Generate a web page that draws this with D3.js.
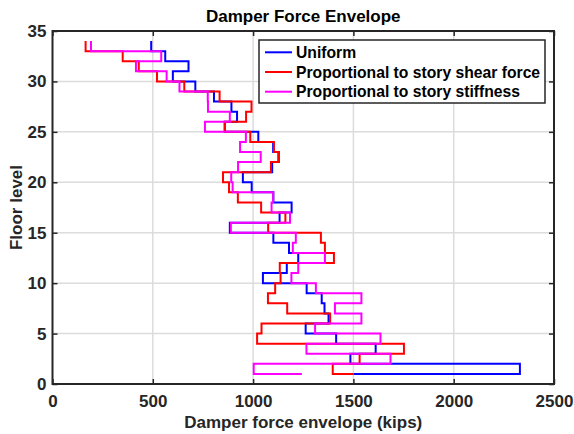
<!DOCTYPE html>
<html>
<head>
<meta charset="utf-8">
<script src="https://cdn.jsdelivr.net/npm/d3@7"></script>
<style>
  body { margin: 0; background: #fff; }
  text { font-family: "Liberation Sans", Arial, Helvetica, sans-serif; font-weight: bold; }
</style>
</head>
<body>
<div id="chart"></div>
<script>
// floors 1..34, damper force envelope per story (kips)
const floors = [1, 2, 3, 4, 5, 6, 7, 8, 9, 10, 11, 12, 13, 14, 15, 16, 17,
  18, 19, 20, 21, 22, 23, 24, 25, 26, 27, 28, 29, 30, 31, 32, 33, 34]
const uniform = [1500, 2330, 1485, 1611, 1414, 1262, 1376, 1356, 1342, 1267,
  1049, 1168, 1225, 1179, 1101, 884, 1132, 1192, 1101, 993, 949, 1095, 1126,
  1100, 1026, 858, 920, 892, 805, 712, 600, 678, 562, 492]
const shearForce = [1500, 1397, 1531, 1752, 1020, 1042, 1384, 1170, 1074, 1110,
  1137, 1133, 1403, 1358, 1338, 1075, 1161, 1040, 924, 880, 850, 1089, 1129,
  1104, 986, 860, 965, 992, 833, 657, 521, 430, 350, 165]
const stiffness = [1243, 1003, 1685, 1266, 1635, 1309, 1540, 1408, 1540, 1313,
  1191, 1225, 1358, 1198, 1213, 889, 1184, 1092, 1100, 898, 891, 925, 1038,
  935, 964, 760, 884, 775, 774, 633, 569, 416, 542, 192]

const seriesNames = ["Uniform", "Proportional to story shear force", "Proportional to story stiffness"]
const seriesColors = ["#0000ff", "#ff0000", "#ff00ff"]
const xTicks = [0, 500, 1000, 1500, 2000, 2500]
const yTicks = [0, 5, 10, 15, 20, 25, 30, 35]

const width = 574, height = 434
const margin = { top: 31, right: 20, bottom: 50, left: 52.5 }

let svg = d3.select("#chart")
    .append("svg")
    .attr("width", width)
    .attr("height", height)

let x = d3.scaleLinear().domain([0, 2500]).range([margin.left, width - margin.right])
let y = d3.scaleLinear().domain([0, 35]).range([height - margin.bottom, margin.top])

// grid
svg.append("g")
    .selectAll("line.gx")
    .data(xTicks.slice(1, -1))
    .enter().append("line")
    .attr("x1", d => x(d)).attr("x2", d => x(d))
    .attr("y1", y(0)).attr("y2", y(35))
    .attr("stroke", "#dcdcdc").attr("stroke-width", 1.5)
svg.append("g")
    .selectAll("line.gy")
    .data(yTicks.slice(1, -1))
    .enter().append("line")
    .attr("x1", x(0)).attr("x2", x(2500))
    .attr("y1", d => y(d)).attr("y2", d => y(d))
    .attr("stroke", "#dcdcdc").attr("stroke-width", 1.5)

// step lines
let line = d3.line()
    .x(d => x(d[0]))
    .y(d => y(d[1]))
    .curve(d3.curveStepAfter)

const allSeries = [uniform, shearForce, stiffness]
allSeries.forEach((vals, i) => {
    svg.append("path")
        .datum(vals.map((v, j) => [v, floors[j]]))
        .attr("d", line)
        .attr("fill", "none")
        .attr("stroke", seriesColors[i])
        .attr("stroke-width", 2)
})

// axes, ticks inward on all four sides
const tickLen = 5
const fmt = d3.format("d")
svg.append("g")
    .attr("transform", `translate(0,${y(0)})`)
    .call(d3.axisBottom(x).tickValues(xTicks).tickFormat(fmt).tickSizeInner(-tickLen).tickSizeOuter(0).tickPadding(11))
    .call(g => g.select(".domain").remove())
svg.append("g")
    .attr("transform", `translate(0,${y(35)})`)
    .call(d3.axisTop(x).tickValues(xTicks).tickSizeInner(-tickLen).tickSizeOuter(0).tickFormat(""))
    .call(g => g.select(".domain").remove())
svg.append("g")
    .attr("transform", `translate(${x(0)},0)`)
    .call(d3.axisLeft(y).tickValues(yTicks).tickFormat(fmt).tickSizeInner(-tickLen).tickSizeOuter(0).tickPadding(6))
    .call(g => g.select(".domain").remove())
svg.append("g")
    .attr("transform", `translate(${x(2500)},0)`)
    .call(d3.axisRight(y).tickValues(yTicks).tickSizeInner(-tickLen).tickSizeOuter(0).tickFormat(""))
    .call(g => g.select(".domain").remove())

svg.selectAll(".tick line").attr("stroke", "#262626").attr("stroke-width", 1.5)
svg.selectAll(".tick text")
    .attr("fill", "#262626")
    .style("font-size", "17px")
    .style("font-weight", "bold")
    .style("font-family", "'Liberation Sans', Arial, sans-serif")

// box
svg.append("rect")
    .attr("x", x(0)).attr("y", y(35))
    .attr("width", x(2500) - x(0)).attr("height", y(0) - y(35))
    .attr("fill", "none")
    .attr("stroke", "#262626")
    .attr("stroke-width", 2)

// titles
svg.append("text")
    .attr("x", (x(0) + x(2500)) / 2)
    .attr("y", 22)
    .attr("text-anchor", "middle")
    .style("font-size", "17px")
    .text("Damper Force Envelope")
svg.append("text")
    .attr("x", (x(0) + x(2500)) / 2)
    .attr("y", 428)
    .attr("text-anchor", "middle")
    .style("font-size", "17px")
    .attr("fill", "#262626")
    .text("Damper force envelope (kips)")
svg.append("text")
    .attr("transform", `translate(22,${(y(0) + y(35)) / 2}) rotate(-90)`)
    .attr("text-anchor", "middle")
    .style("font-size", "17px")
    .attr("fill", "#262626")
    .text("Floor level")

// legend
let legend = svg.append("g").attr("transform", "translate(259,40)")
legend.append("rect")
    .attr("width", 286).attr("height", 63)
    .attr("fill", "#fff")
    .attr("stroke", "#262626")
    .attr("stroke-width", 1.5)
seriesNames.forEach((name, i) => {
    let ly = 12.3 + i * 19.7
    legend.append("line")
        .attr("x1", 6).attr("x2", 33)
        .attr("y1", ly).attr("y2", ly)
        .attr("stroke", seriesColors[i])
        .attr("stroke-width", 2)
    legend.append("text")
        .attr("x", 37).attr("y", ly + 5.5)
        .style("font-size", "15.7px")
        .attr("fill", "#000")
        .text(name)
})
</script>
</body>
</html>
